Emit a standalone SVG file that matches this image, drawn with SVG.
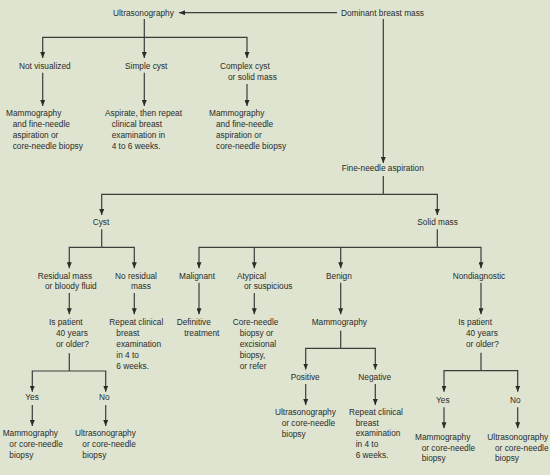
<svg xmlns="http://www.w3.org/2000/svg" width="550" height="475" viewBox="0 0 550 475">
<defs>
<style>
.t{font-family:"Liberation Sans",Arial,sans-serif;font-size:8.3px;fill:#2b2b2b}
.c path{fill:none;stroke:#3c3c3c;stroke-width:1.2}
.c path.a{marker-end:url(#ah)}
</style>
<marker id="ah" viewBox="0 0 6 5" refX="6" refY="2.5" markerWidth="6" markerHeight="5" markerUnits="userSpaceOnUse" orient="auto"><path d="M0,0 L6,2.5 L0,5 z" fill="#2b2b2b"/></marker>
</defs>
<rect width="550" height="475" fill="#dee4cf"/>
<g class="c" id="connectors">
<path class="a" d="M337,12.7 H179"/>
<path class="a" d="M383.3,19 V163"/>
<path class="a" d="M144.3,19 V58"/>
<path class="a" d="M144.3,37.3 H42.7 V58"/>
<path class="a" d="M144.3,37.3 H247 V58"/>
<path class="a" d="M42.7,72.7 V106"/>
<path class="a" d="M144.3,72.7 V106"/>
<path class="a" d="M247,84 V106"/>
<path d="M383.3,176 V194.3"/>
<path class="a" d="M383.3,194.3 H101.7 V215"/>
<path class="a" d="M383.3,194.3 H437.3 V215"/>
<path d="M101.7,229.3 V247.3"/>
<path class="a" d="M101.7,247.3 H69.3 V268.3"/>
<path class="a" d="M101.7,247.3 H134.3 V268.3"/>
<path d="M437.3,229.3 V247.3"/>
<path class="a" d="M437.3,247.3 H199 V268.3"/>
<path class="a" d="M254.3,247.3 V268.3"/>
<path class="a" d="M340.7,247.3 V268.3"/>
<path class="a" d="M437.3,247.3 H481 V268.3"/>
<path class="a" d="M69.3,293 V314.3"/>
<path class="a" d="M134.3,293 V314.3"/>
<path class="a" d="M199,282.7 V314.3"/>
<path class="a" d="M254.3,293 V314.3"/>
<path class="a" d="M340.7,282.7 V314.3"/>
<path class="a" d="M481,282.7 V314.3"/>
<path d="M69.3,353.3 V371"/>
<path class="a" d="M69.3,371 H32.3 V391.7"/>
<path class="a" d="M69.3,371 H105.7 V391.7"/>
<path class="a" d="M32.3,405 V426"/>
<path class="a" d="M105.7,405 V426"/>
<path d="M340.7,330.7 V348.3"/>
<path class="a" d="M340.7,348.3 H305.7 V369.5"/>
<path class="a" d="M340.7,348.3 H375.3 V369.5"/>
<path class="a" d="M305.7,384 V405"/>
<path class="a" d="M375.3,384 V405"/>
<path d="M481,352.7 V370.7"/>
<path class="a" d="M481,370.7 H444 V391.7"/>
<path class="a" d="M481,370.7 H517.7 V391.7"/>
<path class="a" d="M444,407.3 V428.3"/>
<path class="a" d="M517.7,407.3 V428.3"/>
</g>
<g id="dominant"><text class="t" x="341" y="15.8">Dominant breast mass</text></g>
<g id="ultrasonography"><text class="t" x="113" y="15.8">Ultrasonography</text></g>
<g id="not-visualized"><text class="t" x="19" y="68.7">Not visualized</text></g>
<g id="simple-cyst"><text class="t" x="125" y="68.7">Simple cyst</text></g>
<g id="complex-cyst"><text class="t" x="220" y="68.7">Complex cyst</text><text class="t" x="228" y="80">or solid mass</text></g>
<g id="mammo-fna-1"><text class="t" x="6" y="116.3">Mammography</text><text class="t" x="12.7" y="127.3">and fine-needle</text><text class="t" x="12.7" y="138.3">aspiration or</text><text class="t" x="12.7" y="149.3">core-needle biopsy</text></g>
<g id="aspirate"><text class="t" x="105" y="116.3">Aspirate, then repeat</text><text class="t" x="111.7" y="127.3">clinical breast</text><text class="t" x="111.7" y="138.3">examination in</text><text class="t" x="111.7" y="149.3">4 to 6 weeks.</text></g>
<g id="mammo-fna-2"><text class="t" x="209" y="116.3">Mammography</text><text class="t" x="216" y="127.3">and fine-needle</text><text class="t" x="216" y="138.3">aspiration or</text><text class="t" x="216" y="149.3">core-needle biopsy</text></g>
<g id="fna"><text class="t" x="341.7" y="171.3">Fine-needle aspiration</text></g>
<g id="cyst"><text class="t" x="92.7" y="225.3">Cyst</text></g>
<g id="solid-mass"><text class="t" x="417.3" y="225.3">Solid mass</text></g>
<g id="residual"><text class="t" x="37.7" y="278.7">Residual mass</text><text class="t" x="45" y="289.3">or bloody fluid</text></g>
<g id="no-residual"><text class="t" x="115" y="278.7">No residual</text><text class="t" x="131" y="289.3">mass</text></g>
<g id="malignant"><text class="t" x="179" y="278.7">Malignant</text></g>
<g id="atypical"><text class="t" x="237" y="278.7">Atypical</text><text class="t" x="244" y="289.3">or suspicious</text></g>
<g id="benign"><text class="t" x="326" y="278.7">Benign</text></g>
<g id="nondiagnostic"><text class="t" x="452.7" y="278.7">Nondiagnostic</text></g>
<g id="is-patient-1"><text class="t" x="49" y="325.3">Is patient</text><text class="t" x="56" y="336.3">40 years</text><text class="t" x="56" y="347">or older?</text></g>
<g id="repeat-1"><text class="t" x="109.3" y="325.3">Repeat clinical</text><text class="t" x="116.3" y="336.3">breast</text><text class="t" x="116.3" y="347">examination</text><text class="t" x="116.3" y="357.7">in 4 to</text><text class="t" x="116.3" y="368.7">6 weeks.</text></g>
<g id="definitive"><text class="t" x="176.7" y="325.3">Definitive</text><text class="t" x="184.3" y="336.3">treatment</text></g>
<g id="core-needle"><text class="t" x="232.7" y="325.3">Core-needle</text><text class="t" x="239.7" y="336.3">biopsy or</text><text class="t" x="239.7" y="347">excisional</text><text class="t" x="239.7" y="357.7">biopsy,</text><text class="t" x="239.7" y="368.7">or refer</text></g>
<g id="mammography-b"><text class="t" x="311.7" y="325.3">Mammography</text></g>
<g id="is-patient-2"><text class="t" x="458.3" y="325.3">Is patient</text><text class="t" x="466" y="336.3">40 years</text><text class="t" x="466" y="347">or older?</text></g>
<g id="yes-1"><text class="t" x="25.3" y="400">Yes</text></g>
<g id="no-1"><text class="t" x="99" y="400">No</text></g>
<g id="mammo-core-1"><text class="t" x="2.7" y="436.3">Mammography</text><text class="t" x="9.3" y="447.3">or core-needle</text><text class="t" x="9.3" y="458">biopsy</text></g>
<g id="us-core-1"><text class="t" x="75" y="436.3">Ultrasonography</text><text class="t" x="82.3" y="447.3">or core-needle</text><text class="t" x="82.3" y="458">biopsy</text></g>
<g id="positive"><text class="t" x="290.7" y="379.7">Positive</text></g>
<g id="negative"><text class="t" x="358.3" y="379.7">Negative</text></g>
<g id="us-core-2"><text class="t" x="275" y="414.7">Ultrasonography</text><text class="t" x="281.7" y="425.7">or core-needle</text><text class="t" x="281.7" y="436.7">biopsy</text></g>
<g id="repeat-2"><text class="t" x="349" y="414.7">Repeat clinical</text><text class="t" x="355.7" y="425.7">breast</text><text class="t" x="355.7" y="436.3">examination</text><text class="t" x="355.7" y="447.3">in 4 to</text><text class="t" x="355.7" y="458">6 weeks.</text></g>
<g id="yes-2"><text class="t" x="436" y="403">Yes</text></g>
<g id="no-2"><text class="t" x="510" y="403">No</text></g>
<g id="mammo-core-2"><text class="t" x="415" y="439.7">Mammography</text><text class="t" x="421.7" y="450.7">or core-needle</text><text class="t" x="421.7" y="461.3">biopsy</text></g>
<g id="us-core-3"><text class="t" x="487.3" y="439.7">Ultrasonography</text><text class="t" x="495" y="450.7">or core-needle</text><text class="t" x="495" y="461.3">biopsy</text></g>
</svg>
